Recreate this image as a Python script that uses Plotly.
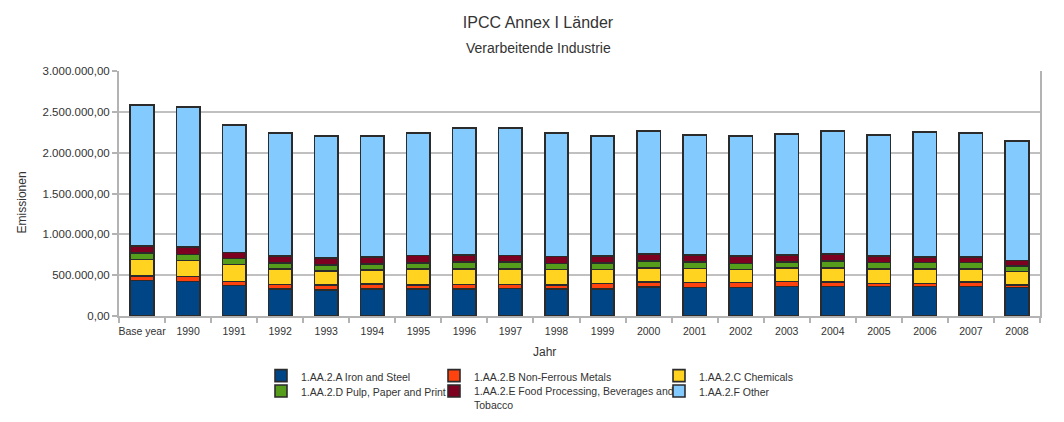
import plotly.graph_objects as go

years = ["Base year", "1990", "1991", "1992", "1993", "1994", "1995", "1996", "1997", "1998",
         "1999", "2000", "2001", "2002", "2003", "2004", "2005", "2006", "2007", "2008"]

iron_steel = [436000, 424000, 375000, 334000, 322000, 334000, 334000, 334000, 336000, 334000,
              334000, 354000, 347000, 347000, 359000, 359000, 359000, 359000, 359000, 347000]
non_ferrous = [52000, 61000, 49000, 53000, 56000, 57000, 49000, 53000, 52000, 45000,
               62000, 61000, 61000, 61000, 65000, 61000, 37000, 37000, 56000, 31000]
chemicals = [204000, 195000, 207000, 192000, 172000, 176000, 195000, 191000, 190000, 189000,
             174000, 176000, 174000, 162000, 167000, 171000, 183000, 183000, 164000, 168000]
pulp_paper = [77000, 73000, 74000, 73000, 73000, 73000, 73000, 85000, 84000, 73000,
              82000, 85000, 82000, 73000, 73000, 85000, 77000, 77000, 77000, 69000]
food = [86000, 90000, 73000, 81000, 85000, 80000, 89000, 81000, 80000, 89000,
        85000, 86000, 81000, 90000, 85000, 81000, 77000, 69000, 69000, 65000]
other = [1727000, 1718000, 1563000, 1507000, 1499000, 1487000, 1500000, 1557000, 1559000, 1510000,
         1470000, 1503000, 1475000, 1474000, 1483000, 1508000, 1487000, 1527000, 1515000, 1463000]

series_names = ["1.AA.2.A Iron and Steel", "1.AA.2.B Non-Ferrous Metals", "1.AA.2.C Chemicals",
                "1.AA.2.D Pulp, Paper and Print",
                "1.AA.2.E Food Processing, Beverages and<br>Tobacco", "1.AA.2.F Other"]
series_values = [iron_steel, non_ferrous, chemicals, pulp_paper, food, other]
colors = ["#004586", "#ff420e", "#ffd320", "#579d1c", "#7e0021", "#83caff"]

# The page body has an 8px margin, so the figure is drawn 8px in from the window edge.
OFF = 8
W, H = 1064 - OFF, 422 - OFF
# plot area in window pixels: x 119..1040, y 70.5..315.7
L, R, T, B = 119 - OFF, 1064 - 1040, 70.5 - OFF, 422 - 315.7
pw, ph = W - L - R, H - T - B

def px(x):
    """window x pixel -> paper fraction"""
    return (x - OFF - L) / pw

def py(y):
    """window y pixel -> paper fraction"""
    return (H - B - (y - OFF)) / ph

FONT = "Liberation Sans, Arial, sans-serif"
TXT = "#333333"

# legend placement (window pixels): left edge of each column, top of each row
col_left = [261, 434, 659]
row_top = [362, 377.5]
legend_ids = ["legend", "legend2", "legend3", "legend4", "legend5", "legend6"]
legend_pos = [(0, 0), (1, 0), (2, 0), (0, 1), (1, 1), (2, 1)]

fig = go.Figure()
for i, (name, vals, col) in enumerate(zip(series_names, series_values, colors)):
    fig.add_trace(go.Bar(
        x=years, y=vals, name=name,
        marker=dict(color=col, line=dict(color="#2b2b2b", width=1.6)),
        legend=legend_ids[i],
    ))

legend_layouts = {}
for i, lid in enumerate(legend_ids):
    c, r = legend_pos[i]
    legend_layouts[lid] = dict(
        x=px(col_left[c]), xanchor="left",
        y=py(row_top[r]), yanchor="top",
        bgcolor="rgba(0,0,0,0)", borderwidth=0,
        font=dict(family=FONT, size=10.5, color=TXT),
        itemwidth=30, valign="top",
        tracegroupgap=0,
    )

fig.update_layout(
    width=W, height=H,
    margin=dict(l=L, r=R, t=T, b=B, pad=0, autoexpand=False),
    paper_bgcolor="white", plot_bgcolor="white",
    barmode="stack", bargap=0.49,
    separators=",.",
    font=dict(family=FONT, color=TXT),
    title=dict(text="IPCC Annex I Länder", x=(538 - OFF) / W, xanchor="center",
               y=1 - (22 - OFF) / H, yanchor="middle", yref="container",
               font=dict(family=FONT, size=16, color=TXT)),
    showlegend=True,
    **legend_layouts,
    xaxis=dict(
        type="category", showgrid=False,
        showline=True, linecolor="#b3b3b3", linewidth=2,
        ticks="outside", tickson="boundaries", ticklen=5, tickcolor="#b3b3b3", tickwidth=2,
        tickangle=0, ticklabelstandoff=4,
        tickfont=dict(family=FONT, size=10.5, color=TXT),
    ),
    yaxis=dict(
        range=[0, 3000000], dtick=500000, tickformat=",.2f",
        showgrid=True, gridcolor="#c0c0c0", gridwidth=1.5,
        showline=True, linecolor="#b3b3b3", linewidth=2, mirror=True,
        ticks="outside", ticklen=5, tickcolor="#b3b3b3", tickwidth=2,
        tickfont=dict(family=FONT, size=11.5, color=TXT),
        zeroline=False,
    ),
    annotations=[
        dict(text="Verarbeitende Industrie", xref="paper", yref="paper",
             x=px(538), y=py(47), xanchor="center", yanchor="middle",
             showarrow=False, font=dict(family=FONT, size=14, color=TXT)),
        dict(text="Emissionen", xref="paper", yref="paper", x=px(22), y=py(202),
             xanchor="center", yanchor="middle", textangle=-90,
             showarrow=False, font=dict(family=FONT, size=12, color=TXT)),
        dict(text="Jahr", xref="paper", yref="paper", x=px(544), y=py(352),
             xanchor="center", yanchor="middle",
             showarrow=False, font=dict(family=FONT, size=12, color=TXT)),
    ],
)

fig.write_html("out.html")
